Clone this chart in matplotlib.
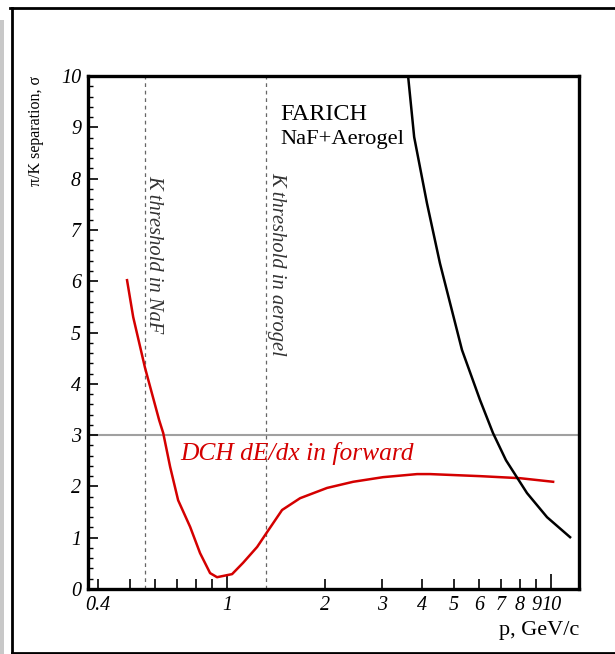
import matplotlib
matplotlib.use("Agg")
import matplotlib.pyplot as plt
from matplotlib.lines import Line2D
from matplotlib.patches import Rectangle
from matplotlib.ticker import FixedLocator, FixedFormatter

plt.rcParams['font.family'] = ['Liberation Serif', 'DejaVu Serif']

# DCH dE/dx (red) curve
dch_p = [0.491, 0.513, 0.558, 0.617, 0.635, 0.667, 0.706, 0.769, 0.825, 0.886,
         0.931, 1.036, 1.12, 1.238, 1.329, 1.478, 1.68, 2.035, 2.45, 3.03, 3.86,
         4.23, 6.04, 8.02, 10.15]
dch_sep = [6.02, 5.30, 4.31, 3.29, 3.04, 2.38, 1.73, 1.21, 0.70, 0.31,
           0.23, 0.29, 0.51, 0.82, 1.11, 1.54, 1.77, 1.97, 2.09, 2.18, 2.24,
           2.24, 2.20, 2.16, 2.09]

# FARICH (black) curve
farich_p = [3.62, 3.78, 4.14, 4.54, 5.31, 6.04, 6.62, 7.26, 8.43, 9.72, 11.45]
farich_sep = [10.0, 8.81, 7.52, 6.35, 4.66, 3.68, 3.04, 2.51, 1.87, 1.40, 1.01]

naf_threshold = 0.558
aerogel_threshold = 1.32
sigma_level = 3

x_major = [1, 10]
x_minor = [0.4, 0.5, 0.6, 0.7, 0.8, 0.9, 2, 3, 4, 5, 6, 7, 8, 9]
x_minor_labels = ['0.4', '', '', '', '', '', '2', '3', '4', '5', '6', '7', '8', '9']

W, H = 615, 654
fig = plt.figure(figsize=(W / 100, H / 100), dpi=100)
ax = fig.add_axes([88 / W, 1 - 589 / H, (579 - 88) / W, (589 - 76) / H])

ax.set_xscale('log')
ax.set_xlim(0.372, 12.2)
ax.set_ylim(0, 10)

ax.axhline(sigma_level, color='#a0a0a0', lw=1.5, zorder=1)
ax.axvline(naf_threshold, color='#666666', lw=0.9, ls=(0, (3, 3)), zorder=1)
ax.axvline(aerogel_threshold, color='#666666', lw=0.9, ls=(0, (3, 3)), zorder=1)

ax.plot(dch_p, dch_sep, color='#d40000', lw=1.8, zorder=3)
ax.plot(farich_p, farich_sep, color='black', lw=1.8, zorder=3)

ax.text(0.595, 8.07, 'K threshold in NaF', rotation=270, ha='center', va='top',
        style='italic', fontsize=14.8, color='#333333')
ax.text(1.42, 8.13, 'K threshold in aerogel', rotation=270, ha='center', va='top',
        style='italic', fontsize=14.8, color='#333333')
ax.text(0.716, 2.52, 'DCH dE/dx in forward', style='italic', fontsize=18.4,
        color='#d40000', va='baseline')
ax.text(1.457, 9.14, 'FARICH', fontsize=17.5, va='baseline')
ax.text(1.457, 8.68, 'NaF+Aerogel', fontsize=16.2, va='baseline')

# ticks
ax.xaxis.set_major_locator(FixedLocator(x_major))
ax.xaxis.set_major_formatter(FixedFormatter(['1', '10']))
ax.xaxis.set_minor_locator(FixedLocator(x_minor))
ax.xaxis.set_minor_formatter(FixedFormatter(x_minor_labels))
ax.set_yticks(range(0, 11))
ax.set_yticklabels([str(i) for i in range(0, 11)])
ax.set_yticks([i * 0.2 for i in range(51)], minor=True)

ax.tick_params(axis='x', which='major', direction='in', length=11, width=1.2,
               labelsize=14.5, pad=5, top=False)
ax.tick_params(axis='x', which='minor', direction='in', length=7, width=1.2,
               labelsize=14.5, pad=5, top=False)
ax.tick_params(axis='y', which='major', direction='in', length=7, width=1.2,
               labelsize=14.5, pad=5, right=False)
ax.tick_params(axis='y', which='minor', direction='in', length=3.6, width=1.0,
               right=False)
for lab in ax.get_xticklabels(which='both') + ax.get_yticklabels():
    lab.set_style('italic')

for s in ax.spines.values():
    s.set_linewidth(2.4)

ax.set_ylabel('π/K separation, σ', loc='top', fontsize=11.5, labelpad=12)
ax.set_xlabel('p, GeV/c', loc='right', fontsize=16, labelpad=4)

# outer frame
fig.add_artist(Rectangle((0, 0), 4 / W, 1 - 20 / H, transform=fig.transFigure,
                         color='#c8c8c8', lw=0))
fig.add_artist(Line2D([10 / W, 1], [1 - 8 / H, 1 - 8 / H], transform=fig.transFigure,
                      color='black', lw=2))
fig.add_artist(Line2D([12 / W, 12 / W], [1 - 8 / H, 1 - 653 / H], transform=fig.transFigure,
                      color='black', lw=2))
fig.add_artist(Line2D([12 / W, 1], [1 - 653 / H, 1 - 653 / H], transform=fig.transFigure,
                      color='black', lw=2))

fig.savefig('out.png', dpi=100)
